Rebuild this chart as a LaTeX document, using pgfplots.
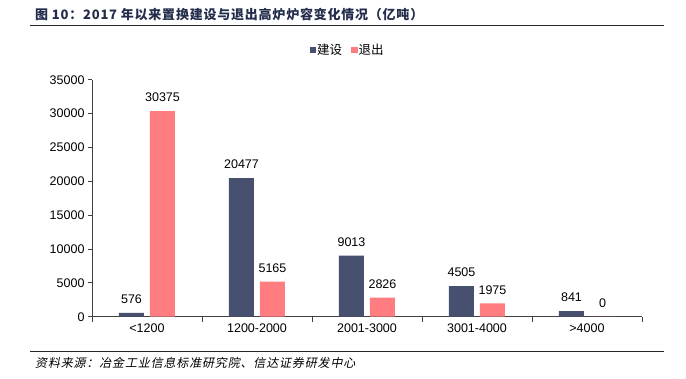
\documentclass[border=0pt]{standalone}
\usepackage{pgfplots}
\pgfplotsset{compat=1.18}
\usepackage{fontspec}
\setmainfont{Liberation Sans}
\newfontfamily\cjk{Noto Sans CJK SC}
\newfontfamily\cjktitle[LetterSpace=6]{Noto Sans CJK SC}
\newfontfamily\cjkit[FakeSlant=0.2,LetterSpace=7]{Noto Sans CJK SC}
\definecolor{jianshe}{RGB}{72,80,112}
\definecolor{tuichu}{RGB}{255,124,128}
\definecolor{titlec}{RGB}{35,45,75}
\begin{document}
\begin{tikzpicture}[x=1pt,y=1pt]
\useasboundingbox (0,0) rectangle (686,378);
\node[anchor=west, inner sep=0, text=titlec, font=\cjktitle\bfseries\fontsize{13}{13}\selectfont] at (35,363) {图 10：2017 年以来置换建设与退出高炉炉容变化情况（亿吨）};
\draw[line width=1.8pt, black!85] (30,352.5) -- (664,352.5);
\draw[line width=1.4pt, black!85] (30,26.3) -- (664,26.3);
\node[anchor=west, inner sep=0, font=\cjkit\fontsize{12}{12}\selectfont] at (35,15) {资料来源：冶金工业信息标准研究院、信达证券研发中心};
\begin{axis}[
  at={(92pt,61.3pt)}, anchor=south west,
  scale only axis, width=550pt, height=237pt,
  xmin=-0.5, xmax=4.5, ymin=0, ymax=35000,
  axis lines*=left,
  axis line style={black!75, line width=0.8pt},
  ytick={0,5000,...,35000},
  xtick={0,1,2,3,4},
  xticklabels={<1200,1200-2000,2001-3000,3001-4000,>4000},
  minor xtick={-0.5,0.5,1.5,2.5,3.5,4.5},
  major x tick style={draw=none},
  every tick/.style={black!75, line width=0.8pt},
  tick align=outside, major tick length=4pt, minor tick length=5pt,
  scaled ticks=false,
  /pgf/number format/1000 sep={},
  /pgf/number format/assume math mode=true,
  ticklabel style={font=\fontsize{12.5}{12.5}\selectfont},
  ybar=6pt, bar width=25pt,
  nodes near coords,
  every node near coord/.append style={font=\fontsize{12.5}{12.5}\selectfont, inner sep=0pt, anchor=south, yshift=9pt, text=black},
  legend style={at={(0.464,1.125)}, anchor=center, draw=none, fill=none,
    legend columns=2, font=\cjk\fontsize{12.5}{12.5}\selectfont,
    /tikz/every even column/.append style={column sep=8pt},
    nodes={inner sep=1pt}},
  legend image code/.code={\path[#1] (0pt,-3.2pt) rectangle (6.5pt,3.3pt);},
  clip=false,
]
\addplot[fill=jianshe, draw=none] coordinates {(0,576) (1,20477) (2,9013) (3,4505) (4,841)};
\addplot[fill=tuichu, draw=none] coordinates {(0,30375) (1,5165) (2,2826) (3,1975) (4,0)};
\legend{建设,退出}
\end{axis}
\end{tikzpicture}
\end{document}
